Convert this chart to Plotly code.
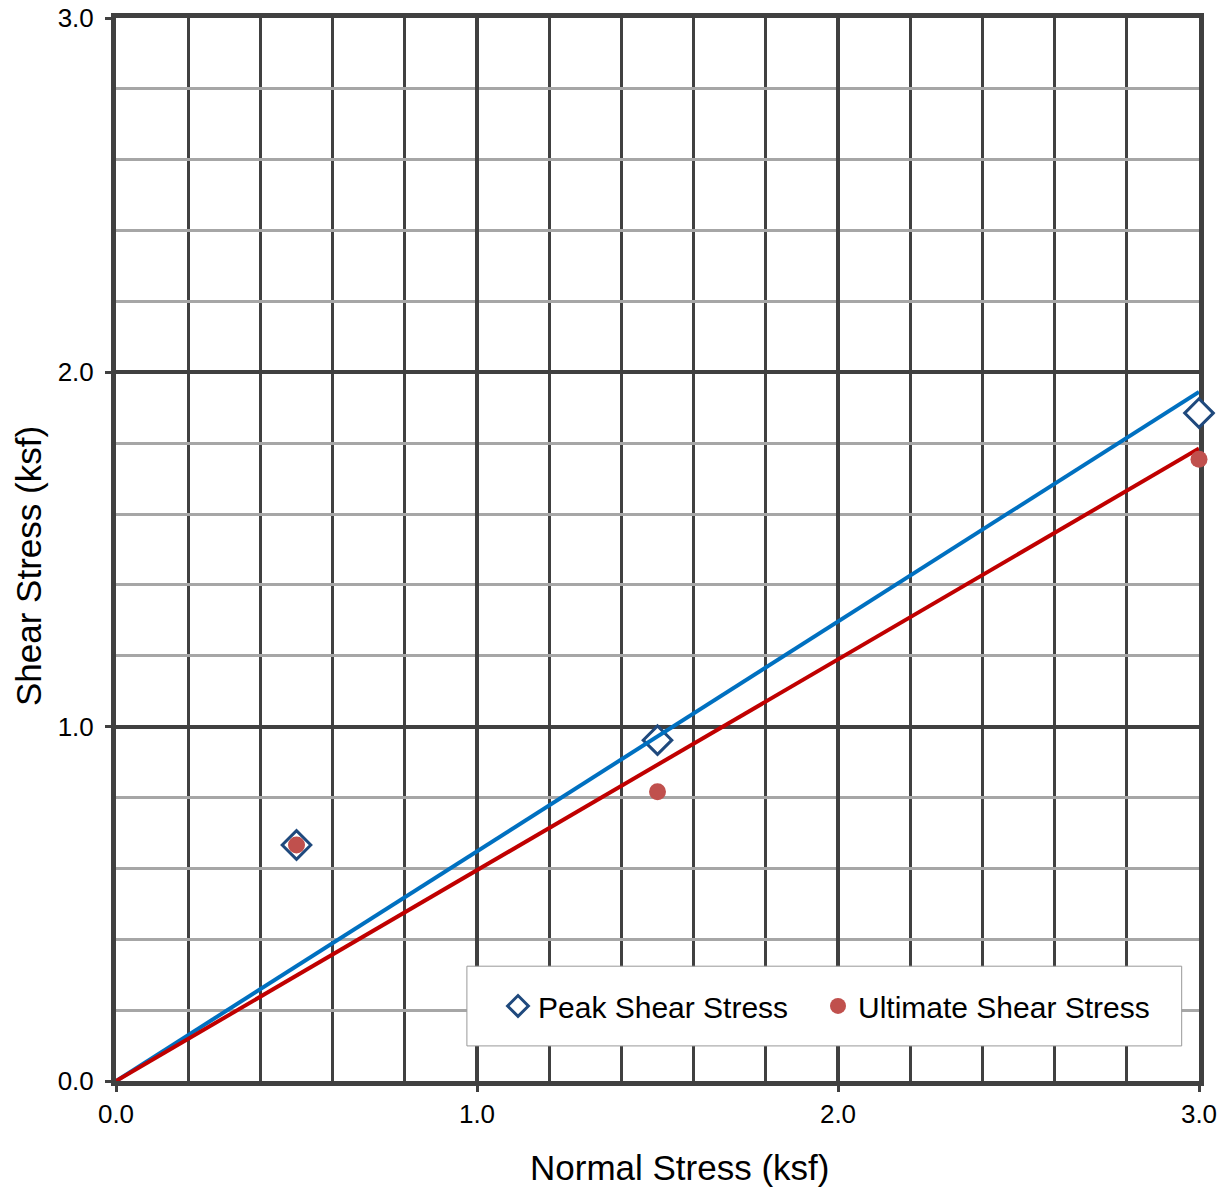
import plotly.graph_objects as go

# Direct shear test results (ksf)
normal_stress = [0.5, 1.5, 3.0]
peak_shear = [0.666, 0.962, 1.885]
ultimate_shear = [0.666, 0.816, 1.755]

# Strength envelopes through the origin
fit_x = [0.0, 3.0]
peak_fit = [0.0, 1.945]
ultimate_fit = [0.0, 1.785]

x_ticks = [0.0, 1.0, 2.0, 3.0]
y_ticks = [0.0, 1.0, 2.0, 3.0]
tick_text = ["0.0", "1.0", "2.0", "3.0"]

FONT = "Arial, Liberation Sans, sans-serif"
DARK = "#404040"

fig = go.Figure()

fig.add_trace(go.Scatter(
    x=normal_stress, y=peak_shear, mode="markers", name="Peak Shear Stress",
    marker=dict(symbol="diamond", size=22, color="white",
                line=dict(color="#1F497D", width=3)),
    cliponaxis=False, legend="legend",
))
fig.add_trace(go.Scatter(
    x=fit_x, y=peak_fit, mode="lines", showlegend=False,
    line=dict(color="#0070C0", width=4), cliponaxis=False,
))
fig.add_trace(go.Scatter(
    x=fit_x, y=ultimate_fit, mode="lines", showlegend=False,
    line=dict(color="#C00000", width=4), cliponaxis=False,
))
fig.add_trace(go.Scatter(
    x=normal_stress, y=ultimate_shear, mode="markers", name="Ultimate Shear Stress",
    marker=dict(symbol="circle", size=17, color="#C0504D"),
    cliponaxis=False, legend="legend2",
))

axis_common = dict(
    range=[0, 3], ticktext=tick_text, automargin=False,
    showline=True, linecolor=DARK, linewidth=5, mirror=True,
    showgrid=True, gridcolor=DARK, gridwidth=4,
    zeroline=False, ticks="outside", ticklen=6, tickwidth=3, tickcolor=DARK,
    tickfont=dict(family=FONT, size=26, color="black"),
    layer="below traces",
)

fig.update_xaxes(
    **axis_common, tickvals=x_ticks, ticklabelstandoff=0,
    minor=dict(dtick=0.2, showgrid=True, gridcolor=DARK, gridwidth=2.5, ticks=""),
)
fig.update_yaxes(
    **axis_common, tickvals=y_ticks, ticklabelstandoff=6,
    minor=dict(dtick=0.2, showgrid=True, gridcolor="#a6a6a6", gridwidth=2.5, ticks=""),
)

# Axis titles
fig.add_annotation(text="Normal Stress (ksf)", xref="paper", yref="paper",
                   x=(679 - 116) / 1083, y=-(1167 - 1081) / 1063,
                   xanchor="center", yanchor="middle", showarrow=False,
                   font=dict(family=FONT, size=35, color="black"))
fig.add_annotation(text="Shear Stress (ksf)", xref="paper", yref="paper",
                   x=-(116 - 28) / 1083, y=(1081 - 566) / 1063, textangle=-90,
                   xanchor="center", yanchor="middle", showarrow=False,
                   font=dict(family=FONT, size=35, color="black"))

# Legend frame
fig.add_shape(type="rect", xref="paper", yref="paper",
              x0=0.324, x1=0.984, y0=0.033, y1=0.108,
              line=dict(color="#999999", width=1), fillcolor="white", layer="above")

legend_style = dict(
    orientation="h", xanchor="left", y=0.0706, yanchor="middle",
    bgcolor="rgba(0,0,0,0)", borderwidth=0,
    font=dict(family=FONT, size=30, color="black"), itemwidth=30,
)

fig.update_layout(
    width=1225, height=1188,
    margin=dict(l=116, r=26, t=18, b=107),
    paper_bgcolor="white", plot_bgcolor="white",
    showlegend=True,
    legend=dict(**legend_style, x=(498 - 116) / 1083),
    legend2=dict(**legend_style, x=(818 - 116) / 1083),
)

fig.write_html("out.html")
